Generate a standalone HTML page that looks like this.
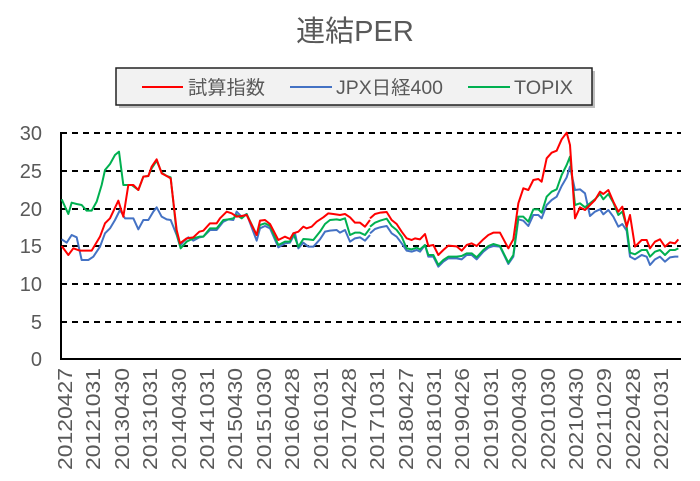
<!DOCTYPE html>
<html><head><meta charset="utf-8"><style>
body{margin:0;background:#fff;}
svg text{font-family:"Liberation Sans","Noto Sans CJK JP",sans-serif;fill:#595959;}
</style></head><body>
<svg width="700" height="476" viewBox="0 0 700 476" xmlns="http://www.w3.org/2000/svg">
<text x="355" y="41" font-size="29" text-anchor="middle">連結PER</text>
<rect x="119" y="71" width="476" height="37" fill="#7f7f7f" opacity="0.5"/>
<rect x="116" y="68" width="476" height="37" fill="#f2f2f2" stroke="#222" stroke-width="1.5"/>
<line x1="142" y1="87" x2="183" y2="87" stroke="#ff0000" stroke-width="2"/>
<text x="188" y="94" font-size="19" textLength="77" lengthAdjust="spacingAndGlyphs">試算指数</text>
<line x1="290" y1="87" x2="332" y2="87" stroke="#4472c4" stroke-width="2"/>
<text x="336" y="94" font-size="19" textLength="107" lengthAdjust="spacingAndGlyphs">JPX日経400</text>
<line x1="468" y1="87" x2="510" y2="87" stroke="#00b050" stroke-width="2"/>
<text x="514" y="94" font-size="19" textLength="59" lengthAdjust="spacingAndGlyphs">TOPIX</text>
<g stroke="#000" stroke-width="2" stroke-dasharray="6,5">
<line x1="61" y1="133" x2="681" y2="133"/><line x1="61" y1="171" x2="681" y2="171"/>
<line x1="61" y1="209" x2="681" y2="209"/><line x1="61" y1="246" x2="681" y2="246"/>
<line x1="61" y1="284" x2="681" y2="284"/><line x1="61" y1="322" x2="681" y2="322"/>
</g>
<line x1="61" y1="359" x2="681" y2="359" stroke="#000" stroke-width="2"/>
<line x1="61" y1="132" x2="61" y2="360" stroke="#000" stroke-width="2"/>
<g font-size="20" text-anchor="end">
<text x="42" y="140">30</text><text x="42" y="178">25</text><text x="42" y="216">20</text>
<text x="42" y="253">15</text><text x="42" y="291">10</text><text x="42" y="329">5</text><text x="42" y="366">0</text>
</g>
<g fill="none" stroke-width="2" stroke-linejoin="round">
<g transform="translate(40,120) scale(0.33333)">
<polyline vector-effect="non-scaling-stroke" stroke="#4472c4" points="65,358 80,368 95,345 110,352 125,420 145,420 160,410 180,380 195,340 210,325 225,300 240,270 255,295 280,295 295,328 310,300 325,300 340,275 350,262 365,290 380,298 392,300 410,345 420,378 430,365 445,352 460,362 478,352 490,350 510,330 530,330 550,305 565,298 580,300 590,275 605,290 620,282 650,362 660,325 675,318 690,325 715,382 735,370 750,368 765,340 775,385 790,368 805,380 820,380 840,358 855,335 870,332 890,330 900,338 915,330 930,365 945,355 960,352 975,362 990,345"/>
<polyline vector-effect="non-scaling-stroke" stroke="#00b050" points="65,238 85,282 95,248 110,252 125,255 140,272 155,272 170,245 185,195 195,150 210,132 225,105 237,95 250,195 275,195 295,210 310,170 325,168 335,145 350,122 365,158 380,168 392,172 410,340 422,385 440,365 460,355 478,350 490,350 510,325 530,325 550,300 565,298 580,295 590,285 605,295 620,282 650,345 660,315 675,310 690,318 715,375 735,365 750,365 760,340 775,380 790,357 805,358 820,360 840,335 855,312 870,300 890,298 900,300 915,295 930,345 945,338 960,338 975,345 990,325"/>
<polyline vector-effect="non-scaling-stroke" stroke="#ff0000" points="65,378 85,405 100,385 120,392 155,392 180,350 195,310 210,295 235,242 250,290 265,195 280,195 295,210 310,170 325,168 335,140 350,118 365,160 380,168 392,175 410,330 420,370 440,355 460,352 478,335 490,332 510,310 530,310 540,295 560,275 575,280 590,290 605,288 620,285 650,345 660,302 675,300 690,312 715,360 735,350 750,357 760,340 775,335 790,320 800,325 815,320 830,305 850,292 865,280 880,282 900,285 915,282 930,292 945,308 960,308 975,320 990,300"/>
</g>
<g transform="translate(370,120) scale(0.33333)">
<polyline vector-effect="non-scaling-stroke" stroke="#4472c4" points="0,340 15,327 30,322 50,318 65,340 80,350 95,370 110,392 125,395 140,390 150,395 165,375 175,410 190,410 205,440 220,425 235,415 260,415 275,418 290,405 305,405 320,418 340,395 355,383 370,378 390,380 415,432 430,410 445,298 460,302 475,318 490,285 505,285 515,295 530,255 545,240 560,230 575,198 590,172 600,140 615,210 630,208 645,220 660,288 675,275 690,268 700,283 715,270 730,290 745,320 757,312 770,332 780,410 795,418 815,405 830,410 840,435 855,418 870,410 885,425 900,412 915,410 925,410"/>
<polyline vector-effect="non-scaling-stroke" stroke="#00b050" points="0,320 15,308 30,302 50,296 65,318 80,330 95,350 110,385 125,388 140,383 150,388 165,375 175,405 190,405 205,435 220,420 235,410 260,410 275,408 290,400 305,400 320,412 340,390 355,378 370,372 390,378 415,428 430,405 445,290 460,290 475,305 490,268 505,268 515,278 530,230 545,215 560,208 575,165 590,135 600,110 615,255 630,250 645,262 660,250 675,238 690,222 700,238 715,222 730,248 745,285 757,275 770,320 780,398 795,403 815,390 830,390 840,410 855,395 870,390 885,405 900,390 915,390 925,385"/>
<polyline vector-effect="non-scaling-stroke" stroke="#ff0000" points="0,295 15,282 30,278 50,276 65,300 80,312 95,335 110,355 125,360 135,355 150,358 165,342 175,378 190,375 205,405 220,390 235,377 260,379 275,392 290,375 305,370 320,378 340,358 355,345 370,338 390,338 415,385 430,358 445,250 460,205 475,210 490,180 505,177 515,185 530,115 545,98 560,92 575,58 590,38 600,75 615,295 630,262 645,270 660,255 675,240 690,215 700,222 715,210 730,245 745,275 757,260 770,320 780,285 795,380 815,360 830,360 840,385 855,365 870,358 885,380 900,367 915,370 925,358"/>
</g>
</g>
<g font-size="20" text-anchor="end">
<text transform="translate(72,368) rotate(-90)" textLength="102" lengthAdjust="spacingAndGlyphs">20120427</text>
<text transform="translate(100,368) rotate(-90)" textLength="102" lengthAdjust="spacingAndGlyphs">20121031</text>
<text transform="translate(129,368) rotate(-90)" textLength="102" lengthAdjust="spacingAndGlyphs">20130430</text>
<text transform="translate(157,368) rotate(-90)" textLength="102" lengthAdjust="spacingAndGlyphs">20131031</text>
<text transform="translate(186,368) rotate(-90)" textLength="102" lengthAdjust="spacingAndGlyphs">20140430</text>
<text transform="translate(214,368) rotate(-90)" textLength="102" lengthAdjust="spacingAndGlyphs">20141031</text>
<text transform="translate(242,368) rotate(-90)" textLength="102" lengthAdjust="spacingAndGlyphs">20150430</text>
<text transform="translate(271,368) rotate(-90)" textLength="102" lengthAdjust="spacingAndGlyphs">20151030</text>
<text transform="translate(299,368) rotate(-90)" textLength="102" lengthAdjust="spacingAndGlyphs">20160428</text>
<text transform="translate(328,368) rotate(-90)" textLength="102" lengthAdjust="spacingAndGlyphs">20161031</text>
<text transform="translate(356,368) rotate(-90)" textLength="102" lengthAdjust="spacingAndGlyphs">20170428</text>
<text transform="translate(384,368) rotate(-90)" textLength="102" lengthAdjust="spacingAndGlyphs">20171031</text>
<text transform="translate(413,368) rotate(-90)" textLength="102" lengthAdjust="spacingAndGlyphs">20180427</text>
<text transform="translate(441,368) rotate(-90)" textLength="102" lengthAdjust="spacingAndGlyphs">20181031</text>
<text transform="translate(469,368) rotate(-90)" textLength="102" lengthAdjust="spacingAndGlyphs">20190426</text>
<text transform="translate(498,368) rotate(-90)" textLength="102" lengthAdjust="spacingAndGlyphs">20191031</text>
<text transform="translate(526,368) rotate(-90)" textLength="102" lengthAdjust="spacingAndGlyphs">20200430</text>
<text transform="translate(555,368) rotate(-90)" textLength="102" lengthAdjust="spacingAndGlyphs">20201030</text>
<text transform="translate(583,368) rotate(-90)" textLength="102" lengthAdjust="spacingAndGlyphs">20210430</text>
<text transform="translate(611,368) rotate(-90)" textLength="102" lengthAdjust="spacingAndGlyphs">20211029</text>
<text transform="translate(640,368) rotate(-90)" textLength="102" lengthAdjust="spacingAndGlyphs">20220428</text>
<text transform="translate(668,368) rotate(-90)" textLength="102" lengthAdjust="spacingAndGlyphs">20221031</text>
</g>
</svg>
</body></html>
